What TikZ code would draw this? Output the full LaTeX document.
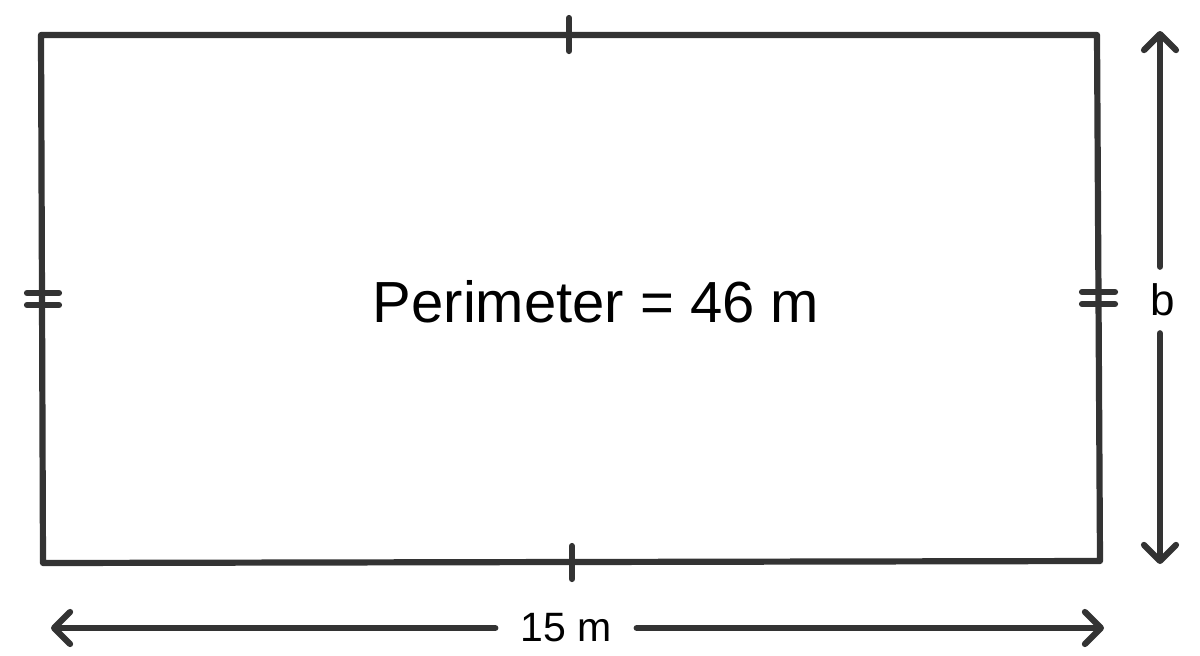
\documentclass[tikz,border=0pt]{standalone}
\usepackage{fontspec}
\setmainfont{Liberation Sans}
\usetikzlibrary{arrows.meta}
\definecolor{ink}{HTML}{333333}

\begin{document}
\begin{tikzpicture}[x=0.5pt,y=-0.5pt,line width=3.1pt,line cap=round,line join=round,
   arr/.style={-{Straight Barb[length=8pt,width=16pt,round]}}]
   \useasboundingbox (0,0) rectangle (1200,655);
   \coordinate (tl) at (41,35);
   \coordinate (tr) at (1097,35);
   \coordinate (br) at (1100,561);
   \coordinate (bl) at (43,563);
   \draw[ink] (tl) -- (tr) -- (br) -- (bl) -- cycle;
   % tick marks
   \draw[ink] (569,18) -- (569,51);
   \draw[ink] (572,546) -- (572,579);
   \draw[ink] (27,293) -- (59,293) (27,305) -- (59,305);
   \draw[ink] (1082,292) -- (1115,292) (1082,304) -- (1115,304);
   \node (per) at (596,302) {\fontsize{29pt}{34pt}\selectfont Perimeter = 46 m};
   % breadth
   \coordinate (bt) at (1160,31);
   \coordinate (bb) at (1160,564);
   \node[inner ysep=7pt] (blab) at (1160,300) {\fontsize{22pt}{26pt}\selectfont\hspace{3pt}b};
   \draw[ink,arr] (blab) -- (bt);
   \draw[ink,arr] (blab) -- (bb);
   % length
   \coordinate (wl) at (51,628);
   \coordinate (wr) at (1104,628);
   \node[inner xsep=11pt] (wlab) at (566,628) {\fontsize{20.5pt}{24pt}\selectfont 15 m};
   \draw[ink,arr] (wlab) -- (wl);
   \draw[ink,arr] (wlab) -- (wr);
  \end{tikzpicture}
\end{document}
